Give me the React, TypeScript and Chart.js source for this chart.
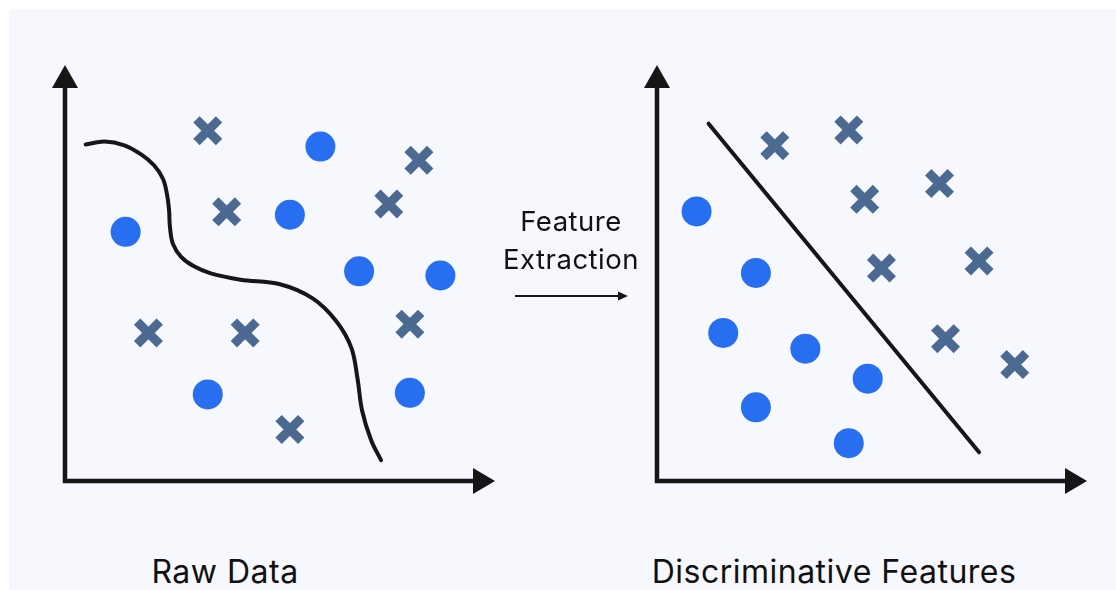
import React, { useEffect, useRef } from "react";
import { Chart, registerables } from "chart.js";

Chart.register(...registerables);

// ---------- data (panel units 0..100) ----------
const rawCrossX = [33.2, 37.6, 82.3, 75.3, 19.4, 41.9, 80.2, 52.3];
const rawCrossY = [84.2, 64.7, 77.1, 66.6, 35.6, 35.6, 37.7, 12.4];
const rawCircleX = [59.4, 52.3, 14.1, 68.4, 87.3, 33.2, 80.2];
const rawCircleY = [80.4, 64.0, 59.9, 50.4, 49.4, 20.8, 21.2];
const rawCurveX = [4.8, 9.2, 13.8, 17.7, 20.7, 22.8, 23.7, 24.2, 24.4, 25.1, 27.0, 30.0, 33.9, 40.8, 50.0, 57.6, 63.1, 66.6, 68.0, 69.1, 71.2, 73.5];
const rawCurveY = [80.9, 81.6, 80.7, 78.5, 75.9, 72.6, 69.0, 65.2, 61.1, 57.0, 53.9, 51.6, 49.9, 48.4, 47.3, 43.9, 38.4, 32.0, 24.8, 16.9, 9.8, 5.0];

const featCrossX = [27.4, 44.6, 48.3, 65.7, 52.2, 74.9, 67.1, 83.2];
const featCrossY = [80.6, 84.4, 67.7, 71.5, 51.2, 52.9, 34.2, 28.0];
const featCircleX = [9.2, 23.0, 15.4, 34.5, 49.0, 23.0, 44.6];
const featCircleY = [64.8, 50.0, 35.6, 31.8, 24.6, 17.7, 9.1];
const featLineX = [12.0, 74.9];
const featLineY = [85.9, 6.9];

const leftLabel = "Raw Data";
const rightLabel = "Discriminative Features";
const middleLabel = ["Feature", "Extraction"];

const CIRCLE = "#276ef1";
const CROSS = "#4c6a91";
const INK = "#161616";
const BG = "#f6f8fd";
const FONT = "Inter, 'Open Sans', sans-serif";

const zip = (xs: number[], ys: number[]) => xs.map((x, i) => ({ x, y: ys[i] }));

const arrowAxes = {
  id: "arrowAxes",
  beforeDatasetsDraw(chart: any) {
    const { ctx, chartArea } = chart;
    const { left, right, top, bottom } = chartArea;
    ctx.save();
    ctx.strokeStyle = INK;
    ctx.fillStyle = INK;
    ctx.lineWidth = 4.5;
    ctx.lineCap = "butt";
    ctx.beginPath();
    ctx.moveTo(left, top + 20);
    ctx.lineTo(left, bottom);
    ctx.moveTo(left - 2.25, bottom);
    ctx.lineTo(right - 20, bottom);
    ctx.stroke();
    // y arrowhead
    ctx.beginPath();
    ctx.moveTo(left, top);
    ctx.lineTo(left - 13, top + 23);
    ctx.lineTo(left + 13, top + 23);
    ctx.closePath();
    ctx.fill();
    // x arrowhead
    ctx.beginPath();
    ctx.moveTo(right, bottom);
    ctx.lineTo(right - 22, bottom - 13);
    ctx.lineTo(right - 22, bottom + 13);
    ctx.closePath();
    ctx.fill();
    ctx.restore();
  },
};

function makeConfig(
  crossX: number[],
  crossY: number[],
  circX: number[],
  circY: number[],
  lineX: number[],
  lineY: number[],
  smooth: boolean,
  padding: { left: number; top: number; right: number; bottom: number }
): any {
  return {
    type: "scatter",
    data: {
      datasets: [
        {
          label: "boundary",
          data: zip(lineX, lineY),
          showLine: true,
          pointRadius: 0,
          borderColor: INK,
          borderWidth: 4,
          borderCapStyle: "round",
          borderJoinStyle: "round",
          tension: smooth ? 0.35 : 0,
          fill: false,
          clip: false,
        },
        {
          label: "class A",
          data: zip(crossX, crossY),
          pointStyle: "crossRot",
          pointRadius: 16,
          borderWidth: 9,
          borderColor: CROSS,
          backgroundColor: CROSS,
          clip: false,
        },
        {
          label: "class B",
          data: zip(circX, circY),
          pointStyle: "circle",
          pointRadius: 15,
          borderWidth: 0,
          backgroundColor: CIRCLE,
          borderColor: CIRCLE,
          clip: false,
        },
      ],
    },
    options: {
      animation: false,
      responsive: false,
      maintainAspectRatio: false,
      devicePixelRatio: 1,
      layout: { padding },
      plugins: { legend: { display: false }, tooltip: { enabled: false }, title: { display: false } },
      events: [],
      scales: {
        x: { type: "linear", min: 0, max: 100, display: false },
        y: { type: "linear", min: 0, max: 100, display: false },
      },
    },
    plugins: [arrowAxes],
  };
}

function Panel(props: { left: number; top: number; config: any }) {
  const ref = useRef<HTMLCanvasElement | null>(null);
  useEffect(() => {
    if (!ref.current) return;
    const chart = new Chart(ref.current, props.config);
    return () => chart.destroy();
  }, []);
  return (
    <canvas
      ref={ref}
      width={480}
      height={470}
      style={{ position: "absolute", left: props.left, top: props.top, width: 480, height: 470 }}
    />
  );
}

export default function App() {
  const leftCfg = makeConfig(rawCrossX, rawCrossY, rawCircleX, rawCircleY, rawCurveX, rawCurveY, true, {
    left: 23,
    top: 22,
    right: 23,
    bottom: 29,
  });
  const rightCfg = makeConfig(featCrossX, featCrossY, featCircleX, featCircleY, featLineX, featLineY, false, {
    left: 23,
    top: 23,
    right: 22,
    bottom: 29,
  });
  const labelStyle: React.CSSProperties = {
    position: "absolute",
    fontFamily: FONT,
    fontSize: 32,
    letterSpacing: 0.5,
    color: "#111",
    whiteSpace: "nowrap",
    transform: "translateX(-50%)",
    lineHeight: "36px",
  };
  return (
    <div
      style={{
        position: "fixed",
        left: 0,
        top: 0,
        width: 1116,
        height: 590,
        overflow: "hidden",
        background: "#ffffff",
      }}
    >
      <div style={{ position: "absolute", left: 9, top: 9, width: 1107, height: 581, background: BG }} />
      <Panel left={40} top={40} config={leftCfg} />
      <Panel left={632} top={40} config={rightCfg} />
      <div style={{ ...labelStyle, left: 225, top: 554 }}>{leftLabel}</div>
      <div style={{ ...labelStyle, left: 834, top: 554 }}>{rightLabel}</div>
      <div
        style={{
          position: "absolute",
          left: 571,
          top: 202,
          transform: "translateX(-50%)",
          fontFamily: FONT,
          fontSize: 27.5,
          letterSpacing: 0.5,
          lineHeight: "38px",
          color: "#111",
          textAlign: "center",
          whiteSpace: "nowrap",
        }}
      >
        {middleLabel[0]}
        <br />
        {middleLabel[1]}
      </div>
      <svg style={{ position: "absolute", left: 512, top: 288 }} width={120} height={16}>
        <line x1={3} y1={8} x2={108} y2={8} stroke={INK} strokeWidth={2} />
        <polygon points="116,8 106,3.5 106,12.5" fill={INK} />
      </svg>
    </div>
  );
}
